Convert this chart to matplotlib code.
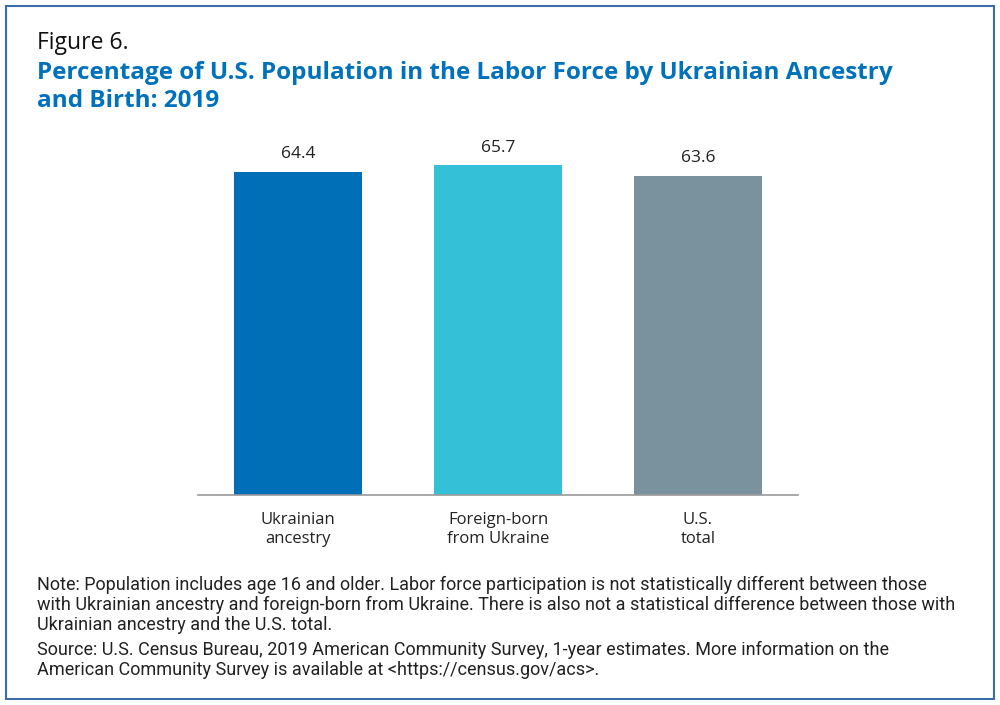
import matplotlib.pyplot as plt
from matplotlib.patches import Rectangle

# ------------------------------------------------------------
# Data
# ------------------------------------------------------------
categories = ['Ukrainian\nancestry', 'Foreign-born\nfrom Ukraine', 'U.S.\ntotal']
values = [64.4, 65.7, 63.6]
value_labels = ['64.4', '65.7', '63.6']
bar_colors = ['#006fb8', '#34c0d6', '#7a929d']

fig_label = 'Figure 6.'
title = ('Percentage of U.S. Population in the Labor Force by Ukrainian Ancestry\n'
         'and Birth: 2019')
note = ('Note: Population includes age 16 and older. Labor force participation is not statistically different between those\n'
        'with Ukrainian ancestry and foreign-born from Ukraine. There is also not a statistical difference between those with\n'
        'Ukrainian ancestry and the U.S. total.')
source = ('Source: U.S. Census Bureau, 2019 American Community Survey, 1-year estimates. More information on the\n'
          'American Community Survey is available at <https://census.gov/acs>.')

W, H = 1000, 705
BLUE = '#0071bc'
SANS = ['Open Sans', 'DejaVu Sans']
NOTE_FONT = ['Roboto', 'DejaVu Sans']

def fx(px):
    return px / W

def fy(py):
    return 1 - py / H

fig = plt.figure(figsize=(W / 100, H / 100), dpi=100)
fig.patch.set_facecolor('white')

# frame round the whole figure
fig.patches.append(Rectangle((fx(6), fy(699)), fx(988), 693 / H, transform=fig.transFigure,
                             fill=False, edgecolor='#3a6ea8', linewidth=1.5))

# ------------------------------------------------------------
# Bars
# ------------------------------------------------------------
ax = fig.add_axes([fx(198), fy(495), 0.6, 365 / H])
x = range(len(values))
bars = ax.bar(x, values, width=0.64, color=bar_colors)
ax.set_xlim(-0.5, 2.5)
ax.set_ylim(0, 365 / 5.016)

for b, lab in zip(bars, value_labels):
    ax.annotate(lab, (b.get_x() + b.get_width() / 2, b.get_height()),
                xytext=(0, 7), textcoords='offset points',
                ha='center', va='bottom', fontsize=12.5, color='#222222',
                family=SANS)

ax.set_xticks(list(x))
ax.set_xticklabels(categories, fontsize=12, color='#222222', linespacing=1.3,
                   family=SANS)
ax.tick_params(axis='x', length=0, pad=12)
ax.set_yticks([])
for side in ['top', 'right', 'left']:
    ax.spines[side].set_visible(False)
ax.spines['bottom'].set_color('#9a9a9a')
ax.spines['bottom'].set_linewidth(1.2)

# ------------------------------------------------------------
# Texts
# ------------------------------------------------------------
fig.text(fx(37), fy(43), fig_label, fontsize=16.5, color='#111111',
         ha='left', va='center', family=SANS)
fig.text(fx(37), fy(61), title, fontsize=17.5, color=BLUE, fontweight='bold',
         ha='left', va='top', linespacing=1.2, family=SANS)
fig.text(fx(37), fy(576), note, fontsize=13, color='#222222',
         ha='left', va='top', linespacing=1.15, family=NOTE_FONT)
fig.text(fx(37), fy(641), source, fontsize=13, color='#222222',
         ha='left', va='top', linespacing=1.15, family=NOTE_FONT)

fig.savefig('out.png', dpi=100)
